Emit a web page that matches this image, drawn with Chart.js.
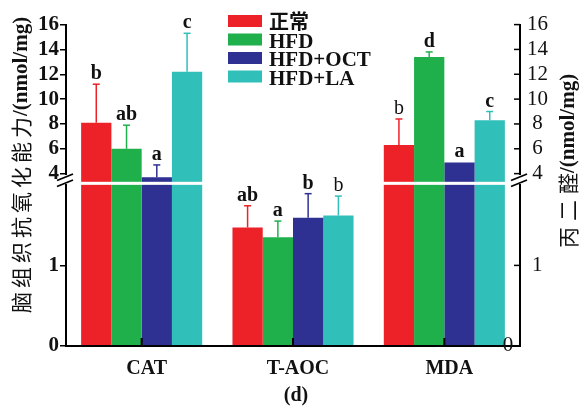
<!DOCTYPE html>
<html>
<head>
<meta charset="utf-8">
<script src="https://cdn.jsdelivr.net/npm/chart.js@4.4.1/dist/chart.umd.min.js"></script>
<style>
  html, body { margin: 0; padding: 0; background: #fff; }
</style>
</head>
<body>
<canvas id="barChart" width="579" height="407"></canvas>
<script>
var categories = ["CAT", "T-AOC", "MDA"];
var groups = ["正常", "HFD", "HFD+OCT", "HFD+LA"];
var barColors = ["#ed2128", "#1fb04b", "#2e3192", "#31bfb9"];

// means per group, in category order
var normalValues = [8.1, 1.47, 6.3];
var hfdValues = [6.0, 1.35, 13.4];
var octValues = [3.7, 1.59, 4.9];
var laValues = [12.2, 1.62, 8.3];

// upper end of the error bars
var normalErr = [11.2, 1.74, 8.4];
var hfdErr = [7.9, 1.55, 13.8];
var octErr = [4.7, 1.89, 4.9];
var laErr = [15.3, 1.86, 9.0];

// significance letters, and whether they are set bold
var normalLetters = ["b", "ab", "b"];
var hfdLetters = ["ab", "a", "d"];
var octLetters = ["a", "b", "a"];
var laLetters = ["c", "b", "c"];
var normalBold = [true, true, false];
var hfdBold = [true, true, true];
var octBold = [true, true, true];
var laBold = [true, false, true];

// broken axis: lower part 0-2, upper part from about 3.1 to 16
var lowTicks = [0, 1];
var highTicks = [4, 6, 8, 10, 12, 14, 16];
var lowMax = 2;
var highMin = 3.1;
var highMax = 16;

var values = [normalValues, hfdValues, octValues, laValues];
var errs = [normalErr, hfdErr, octErr, laErr];
var letters = [normalLetters, hfdLetters, octLetters, laLetters];
var bolds = [normalBold, hfdBold, octBold, laBold];

var serif = '"Liberation Serif", "Times New Roman", serif';
var cjk = '"Noto Sans CJK SC", sans-serif';

var datasets = [];
groups.forEach(function (g, i) {
  datasets.push({
    label: g,
    data: values[i].map(function (v) { return Math.min(v, lowMax); }),
    backgroundColor: barColors[i],
    yAxisID: "yLow",
    stack: "s" + i,
    barPercentage: 1,
    categoryPercentage: 0.8
  });
});
groups.forEach(function (g, i) {
  datasets.push({
    label: g,
    data: values[i].map(function (v) { return v > highMin ? v : null; }),
    backgroundColor: barColors[i],
    yAxisID: "yHigh",
    stack: "s" + i,
    barPercentage: 1,
    categoryPercentage: 0.8
  });
});

function line(ctx, x1, y1, x2, y2) {
  ctx.beginPath();
  ctx.moveTo(x1, y1);
  ctx.lineTo(x2, y2);
  ctx.stroke();
}

function breakMark(ctx, x) {
  ctx.fillStyle = "#fff";
  ctx.fillRect(x - 3, 175, 6, 9);
  ctx.strokeStyle = "#000";
  ctx.lineWidth = 1.8;
  line(ctx, x - 9, 180.5, x + 7, 174);
  line(ctx, x - 9, 186.5, x + 7, 180);
}

var extras = {
  id: "extras",
  afterDraw: function (chart) {
    var ctx = chart.ctx;
    var area = chart.chartArea;
    var x = chart.scales.x;
    var yLow = chart.scales.yLow;
    var yHigh = chart.scales.yHigh;
    var yHighR = chart.scales.yHighR;
    var yLowR = chart.scales.yLowR;
    ctx.save();

    // gap between the two axis parts
    ctx.fillStyle = "#fff";
    ctx.fillRect(area.left + 2, yHigh.bottom - 3, area.right - area.left - 4, 3);

    // bottom axis again, over the bar ends
    ctx.strokeStyle = "#000";
    ctx.lineWidth = 2;
    line(ctx, area.left - 1, area.bottom, area.right + 1, area.bottom);
    categories.forEach(function (c, j) {
      var px = x.getPixelForValue(j);
      line(ctx, px, area.bottom, px, area.bottom - 8);
    });

    // right axis ticks point inwards
    ctx.lineWidth = 1.5;
    highTicks.forEach(function (v) {
      var py = yHighR.getPixelForValue(v);
      line(ctx, area.right - 6, py, area.right, py);
    });
    lowTicks.forEach(function (v) {
      var py = yLowR.getPixelForValue(v);
      line(ctx, area.right - 6, py, area.right, py);
    });

    breakMark(ctx, area.left);
    breakMark(ctx, area.right);

    // error bars and letters
    groups.forEach(function (g, i) {
      var high = chart.getDatasetMeta(i + 4);
      var low = chart.getDatasetMeta(i);
      values[i].forEach(function (v, j) {
        var up = v > lowMax;
        var scale = up ? yHigh : yLow;
        var bar = (up ? high : low).data[j];
        var y0 = scale.getPixelForValue(v);
        var y1 = scale.getPixelForValue(errs[i][j]);
        ctx.strokeStyle = barColors[i];
        ctx.lineWidth = 1.5;
        if (y0 - y1 > 1) {
          line(ctx, bar.x, y0, bar.x, y1);
          line(ctx, bar.x - 3.5, y1, bar.x + 3.5, y1);
        }
        ctx.fillStyle = "#111";
        ctx.font = (bolds[i][j] ? "bold " : "") + "20px " + serif;
        ctx.textAlign = "center";
        ctx.textBaseline = "alphabetic";
        ctx.fillText(letters[i][j], bar.x, y1 - 5);
      });
    });

    // legend
    groups.forEach(function (g, i) {
      var top = 15 + i * 18.5;
      ctx.fillStyle = barColors[i];
      ctx.fillRect(228, top, 34, 12);
      ctx.fillStyle = "#111";
      ctx.textAlign = "left";
      ctx.textBaseline = "alphabetic";
      ctx.font = i === 0 ? "bold 20px " + cjk : "bold 21px " + serif;
      ctx.fillText(g, 269, top + 14);
    });

    // lone right-hand zero
    ctx.font = "21px " + serif;
    ctx.textAlign = "center";
    ctx.textBaseline = "middle";
    ctx.fillText("0", 508, 345);

    ctx.font = "bold 20px " + serif;
    ctx.fillText("(d)", 296, 396);

    // left axis title
    ctx.save();
    ctx.translate(21, 313);
    ctx.rotate(-Math.PI / 2);
    ctx.textAlign = "left";
    ctx.textBaseline = "middle";
    ctx.font = "21px " + cjk;
    var zh = "脑组织抗氧化能力";
    for (var k = 0; k < zh.length; k++) {
      ctx.fillText(zh[k], k * 25, 0);
    }
    ctx.font = "bold 21px " + serif;
    ctx.fillText("/(nmol/mg)", zh.length * 25 - 3, 1);
    ctx.restore();

    // right axis title
    ctx.save();
    ctx.translate(568, 248);
    ctx.rotate(-Math.PI / 2);
    ctx.textAlign = "left";
    ctx.textBaseline = "middle";
    ctx.font = "21px " + cjk;
    var zh2 = "丙二醛";
    for (var m = 0; m < zh2.length; m++) {
      ctx.fillText(zh2[m], m * 27, 0);
    }
    ctx.font = "bold 21px " + serif;
    ctx.fillText("/(nmol/mg)", 2 * 27 + 21, 1);
    ctx.restore();

    ctx.restore();
  }
};

function setTicks(list) {
  return function (scale) {
    scale.ticks = list.map(function (v) { return { value: v }; });
  };
}

var leftGrid = { drawOnChartArea: false, drawTicks: true, tickLength: 6, color: "#000", lineWidth: 1.5 };
var axisBorder = { display: true, color: "#000", width: 2 };
var leftFont = { family: serif, size: 21, weight: "bold" };
var rightFont = { family: serif, size: 21 };

new Chart("barChart", {
  type: "bar",
  data: { labels: categories, datasets: datasets },
  options: {
    responsive: false,
    animation: false,
    devicePixelRatio: 1,
    layout: { padding: { top: 21, left: 0, right: 0, bottom: 0 } },
    plugins: { legend: { display: false }, tooltip: { enabled: false } },
    scales: {
      x: {
        grid: { display: false, drawTicks: false },
        border: axisBorder,
        ticks: { color: "#111", padding: 11, labelOffset: 5, font: { family: serif, size: 20, weight: "bold" } },
        afterFit: function (s) { s.height = 61; }
      },
      yLow: {
        position: "left", stack: "left", stackWeight: 163, stacked: false,
        min: 0, max: lowMax,
        afterBuildTicks: setTicks(lowTicks),
        grid: leftGrid, border: axisBorder,
        ticks: { color: "#111", padding: 1, autoSkip: false, font: leftFont },
        afterFit: function (s) { s.width = 66; }
      },
      yHigh: {
        position: "left", stack: "left", stackWeight: 162, stacked: false,
        min: highMin, max: highMax,
        afterBuildTicks: setTicks(highTicks),
        grid: leftGrid, border: axisBorder,
        ticks: { color: "#111", padding: 1, autoSkip: false, font: leftFont },
        afterFit: function (s) { s.width = 66; }
      },
      yHighR: {
        position: "right", stack: "right", stackWeight: 162, stacked: false,
        min: highMin, max: highMax,
        afterBuildTicks: setTicks(highTicks),
        grid: { display: false, drawTicks: false }, border: axisBorder,
        ticks: { color: "#111", padding: 7, autoSkip: false, crossAlign: "center", font: rightFont },
        afterFit: function (s) { s.width = 59; }
      },
      yLowR: {
        position: "right", stack: "right", stackWeight: 163, stacked: false,
        min: 0, max: lowMax,
        afterBuildTicks: setTicks(lowTicks),
        grid: { display: false, drawTicks: false }, border: axisBorder,
        ticks: {
          color: "#111", padding: 12, autoSkip: false, crossAlign: "center", font: rightFont,
          callback: function (v) { return v === 0 ? "" : v; }
        },
        afterFit: function (s) { s.width = 59; }
      }
    }
  },
  plugins: [extras]
});
</script>
</body>
</html>
